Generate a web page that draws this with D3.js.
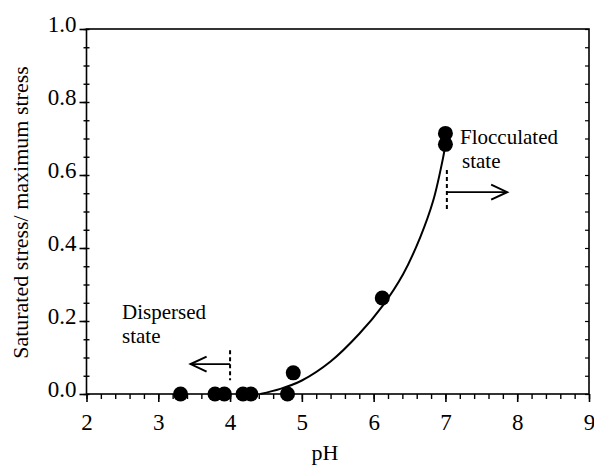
<!DOCTYPE html>
<html>
<head>
<meta charset="utf-8">
<script src="https://cdn.jsdelivr.net/npm/d3@7"></script>
<style>
  html, body { margin: 0; padding: 0; background: #fff; }
</style>
</head>
<body>
<svg id="chart" width="594" height="465"></svg>
<script>
// ---- data ----
const xTicks = [2, 3, 4, 5, 6, 7, 8, 9];
const yTicks = [0.0, 0.2, 0.4, 0.6, 0.8, 1.0];
const pointsPH = [3.31, 3.79, 3.92, 4.18, 4.29, 4.80, 4.88, 6.12, 7.00, 7.00];
const pointsY  = [0.0, 0.0, 0.0, 0.0, 0.0, 0.0, 0.058, 0.263, 0.714, 0.684];
const curvePH = [4.42, 4.70, 5.00, 5.40, 5.80, 6.13, 6.41, 6.65, 6.83, 6.97, 7.00];
const curveY  = [0.0, 0.014, 0.037, 0.089, 0.165, 0.243, 0.328, 0.43, 0.53, 0.65, 0.684];
const xLabel = "pH";
const yLabel = "Saturated stress/ maximum stress";

// ---- layout ----
const svg = d3.select("#chart");
const L = 86.5, R = 589, T = 29, B = 394;
const x = d3.scaleLinear().domain([2, 9]).range([L, R]);
const y = d3.scaleLinear().domain([0, 1]).range([B, T]);
const FONT = '"Liberation Serif"';

const g = svg.append("g");

// frame
g.append("rect").attr("x", L).attr("y", T).attr("width", R - L).attr("height", B - T)
  .attr("fill", "none").attr("stroke", "#000").attr("stroke-width", 1.6);

// x axis
const xMinor = d3.range(2, 9.001, 0.2);
g.append("g").attr("transform", `translate(0,${B})`)
  .call(d3.axisBottom(x).tickValues(xMinor).tickSize(5).tickFormat(""))
  .call(s => s.select(".domain").remove())
  .call(s => s.selectAll("line").attr("stroke-width", 1.4));
g.append("g").attr("transform", `translate(0,${B})`)
  .call(d3.axisBottom(x).tickValues(xTicks).tickSize(8).tickFormat(d3.format("d")))
  .call(s => s.select(".domain").remove())
  .call(s => s.selectAll("line").attr("stroke-width", 1.6))
  .call(s => s.selectAll("text").attr("y", 36).attr("dy", null)
    .style("font-family", FONT).attr("font-size", 23));

// y axis
const yMinor = d3.range(0, 1.0001, 0.05);
g.append("g").attr("transform", `translate(${L + 3},0)`)
  .call(d3.axisLeft(y).tickValues(yMinor).tickSize(6).tickFormat(""))
  .call(s => s.select(".domain").remove())
  .call(s => s.selectAll("line").attr("stroke-width", 1.4));
g.append("g").attr("transform", `translate(${L},0)`)
  .call(d3.axisLeft(y).tickValues(yTicks).tickSize(7).tickPadding(3).tickFormat(d3.format(".1f")))
  .call(s => s.select(".domain").remove())
  .call(s => s.selectAll("line").attr("stroke-width", 1.6))
  .call(s => s.selectAll("text").attr("dy", 2)
    .style("font-family", FONT).attr("font-size", 23));

// right-side minor ticks
g.append("g").attr("transform", `translate(${R},0)`)
  .call(d3.axisLeft(y).tickValues(yMinor).tickSize(4).tickFormat(""))
  .call(s => s.select(".domain").remove())
  .call(s => s.selectAll("line").attr("stroke-width", 1.2));

// axis labels
svg.append("text").attr("x", 325).attr("y", 460).attr("text-anchor", "middle")
  .style("font-family", FONT).attr("font-size", 22).text(xLabel);
svg.append("text").attr("transform", `translate(28,212.5) rotate(-90)`)
  .attr("text-anchor", "middle").style("font-family", FONT).attr("font-size", 22).text(yLabel);

// fitted curve
const curveData = curvePH.map((p, i) => [p, curveY[i]]);
g.append("path").datum(curveData)
  .attr("d", d3.line().x(d => x(d[0])).y(d => y(d[1])).curve(d3.curveCatmullRom.alpha(0.5)))
  .attr("fill", "none").attr("stroke", "#000").attr("stroke-width", 2);

// points
const pts = pointsPH.map((p, i) => [p, pointsY[i]]);
g.selectAll("circle.pt").data(pts).join("circle").attr("class", "pt")
  .attr("cx", d => x(d[0])).attr("cy", d => y(d[1])).attr("r", 7.5).attr("fill", "#000");

// annotations
function stateMarker(px, y0, y1, ya, tipX) {
  g.append("line").attr("x1", x(px)).attr("x2", x(px)).attr("y1", y(y0)).attr("y2", y(y1))
    .attr("stroke", "#000").attr("stroke-width", 2).attr("stroke-dasharray", "4,3");
  g.append("line").attr("x1", x(px)).attr("x2", x(tipX)).attr("y1", y(ya)).attr("y2", y(ya))
    .attr("stroke", "#000").attr("stroke-width", 1.8);
  const dir = tipX > px ? -1 : 1;
  const tx = x(tipX), ty = y(ya);
  g.append("path").attr("d", `M${tx + dir * 16},${ty - 7.5} L${tx},${ty} L${tx + dir * 16},${ty + 7.5}`)
    .attr("fill", "none").attr("stroke", "#000").attr("stroke-width", 2);
}
stateMarker(4.0, 0.12, 0.038, 0.082, 3.45);
stateMarker(7.02, 0.614, 0.504, 0.553, 7.86);

const ann = [
  { lines: ["Dispersed", "state"], x: [122, 122], y: 319, gap: 23.5 },
  { lines: ["Flocculated", "state"], x: [460, 462], y: 144, gap: 23.5 }
];
ann.forEach(a => {
  const t = svg.append("text").attr("y", a.y)
    .style("font-family", FONT).attr("font-size", 21);
  a.lines.forEach((ln, i) => {
    t.append("tspan").attr("x", a.x[i]).attr("dy", i === 0 ? 0 : a.gap).text(ln);
  });
});
</script>
</body>
</html>
